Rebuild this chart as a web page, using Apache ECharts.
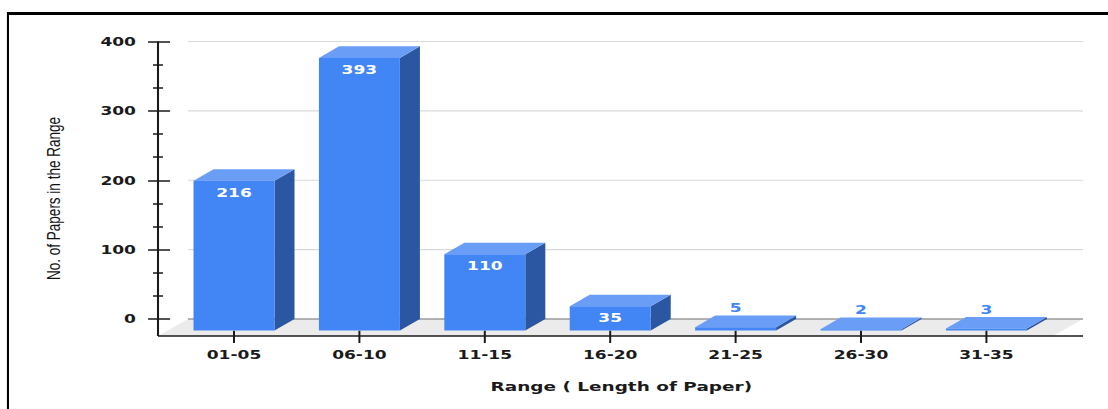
<!DOCTYPE html>
<html>
<head>
<meta charset="utf-8">
<script src="https://cdn.jsdelivr.net/npm/echarts@6/dist/echarts.min.js"></script>
<style>
  html, body { margin: 0; padding: 0; background: #fff; overflow: hidden; }
  /* the chart is laid out narrow and widened horizontally */
  #chart { width: 780px; height: 409px; transform: scaleX(1.42051); transform-origin: 0 0; }
</style>
</head>
<body>
<div id="chart"></div>
<script>
// ---- data ----
const categories = ['01-05', '06-10', '11-15', '16-20', '21-25', '26-30', '31-35'];
const paperCounts = [216, 393, 110, 35, 5, 2, 3];
const yTicks = [0, 100, 200, 300, 400];
const xTitle = 'Range ( Length of Paper)';
const yTitle = 'No. of Papers in the Range';

// ---- look ----
const FRONT = '#4285f4', TOP = '#6a9ef6', SIDE = '#2b56a2';
const INK = '#1a1a1a';
const BOLD = { fontFamily: 'DejaVu Sans', fontWeight: 'bold', fontSize: 12, color: INK };

// 3D geometry (layout px, before horizontal widening)
const BAR_W = 57, DX = 14.1, DY = 11.6;        // bar width and depth offset
const FLOOR_DX = 21.1, FLOOR_DY = 17;          // floor depth
const FLOOR_LEFT = 32.4, FLOOR_RIGHT = 68;     // floor reach beyond first / last category
const TICK_UP = 5.3, TICK_DOWN = 7;            // category tick around the front edge

const yMin = yTicks[0], yMax = yTicks[yTicks.length - 1], yStep = yTicks[1] - yTicks[0];

const chart = echarts.init(document.getElementById('chart'), null, { renderer: 'svg' });

// floor, back gridlines, axis lines and category ticks
function renderScene(params, api) {
  const first = api.coord([0, yMin]);
  const last = api.coord([categories.length - 1, yMin]);
  const topY = api.coord([0, yMax])[1];
  const bl = first[0] - FLOOR_LEFT, br = last[0] + FLOOR_RIGHT;
  const by = first[1], fy = by + FLOOR_DY;
  const children = [{
    type: 'polygon',
    shape: { points: [[bl, by], [br, by], [br - FLOOR_DX, fy], [bl - FLOOR_DX, fy]] },
    style: { fill: '#ebebeb' }
  }];
  yTicks.forEach(function (t) {
    const y = api.coord([0, t])[1];
    children.push({
      type: 'line',
      shape: { x1: bl, y1: y, x2: br, y2: y },
      style: { stroke: t === yMin ? '#9a9a9a' : '#d9d9d9', lineWidth: t === yMin ? 1.6 : 1.2 }
    });
  });
  categories.forEach(function (c, i) {
    const x = api.coord([i, yMin])[0];
    children.push({
      type: 'line',
      shape: { x1: x, y1: fy - TICK_UP, x2: x, y2: fy + TICK_DOWN },
      style: { stroke: INK, lineWidth: 1.4 }
    });
  });
  children.push({
    type: 'line', shape: { x1: bl - FLOOR_DX, y1: fy, x2: br, y2: fy },
    style: { stroke: INK, lineWidth: 1.6 }
  });
  children.push({
    type: 'line', shape: { x1: bl - FLOOR_DX, y1: topY, x2: bl - FLOOR_DX, y2: fy },
    style: { stroke: INK, lineWidth: 1.45 }
  });
  return { type: 'group', children: children };
}

// one 3D bar with its value label
function renderBar(params, api) {
  const i = api.value(0), v = api.value(1);
  const top = api.coord([i, v]), base = api.coord([i, 0]);
  const cx = top[0], l = cx - BAR_W / 2, r = cx + BAR_W / 2;
  const yt = top[1], yb = base[1];
  const fyT = yt + DY, fyB = yb + DY;
  const children = [
    { type: 'polygon', shape: { points: [[r, fyT], [r + DX, yt], [r + DX, yb], [r, fyB]] }, style: { fill: SIDE } },
    { type: 'polygon', shape: { points: [[l, fyT], [l + DX, yt], [r + DX, yt], [r, fyT]] }, style: { fill: TOP } },
    { type: 'rect', shape: { x: l, y: fyT, width: BAR_W, height: Math.max(fyB - fyT, 0.8) }, style: { fill: FRONT } }
  ];
  const inside = (yb - yt) > 16;
  children.push({
    type: 'text',
    x: cx, y: inside ? fyT + 11.5 : yt - 7.7,
    style: {
      text: String(v),
      fill: inside ? '#ffffff' : FRONT,
      fontFamily: 'DejaVu Sans', fontWeight: 'bold', fontSize: 12,
      align: 'center', verticalAlign: 'middle'
    }
  });
  return { type: 'group', children: children };
}

const yAxisBase = {
  type: 'value', min: yMin, max: yMax, interval: yStep,
  position: 'left', offset: 9.36,
  axisLine: { show: false },
  splitLine: { show: false }
};

chart.setOption({
  animation: false,
  backgroundColor: '#ffffff',
  grid: { left: 120.59, width: 617.96, top: 41.5, bottom: 90, outerBoundsMode: 'none' },
  xAxis: {
    type: 'category',
    data: categories,
    offset: 24,
    z: 1,
    axisLine: { show: false },
    axisTick: { show: false },
    axisLabel: Object.assign({ margin: 6 }, BOLD),
    splitLine: { show: false },
    name: xTitle,
    nameLocation: 'middle',
    nameGap: 37.5,
    nameTextStyle: { fontFamily: 'DejaVu Sans', fontWeight: 'bold', fontSize: 13, color: INK, padding: [0, 0, 0, 15.6] }
  },
  yAxis: [
    Object.assign({}, yAxisBase, {
      z: 1,
      axisTick: { show: true, length: 7, lineStyle: { color: INK, width: 1.5 } },
      minorTick: { show: true, splitNumber: 3, length: 3.5, lineStyle: { color: INK, width: 1.5 } },
      axisLabel: Object.assign({ margin: 15.5 }, BOLD)
    }),
    Object.assign({}, yAxisBase, {
      z: 1,
      axisTick: { show: true, inside: true, length: 8.5, lineStyle: { color: INK, width: 1.5 } },
      minorTick: { show: true, splitNumber: 3, length: 3.5, lineStyle: { color: INK, width: 1.5 } },
      axisLabel: { show: false }
    })
  ],
  graphic: [
    { type: 'line', shape: { x1: 5.6, y1: 13.5, x2: 800, y2: 13.5 }, style: { stroke: '#000', lineWidth: 3 } },
    { type: 'line', shape: { x1: 5.6, y1: 12, x2: 5.6, y2: 420 }, style: { stroke: '#000', lineWidth: 1.45 } },
    {
      type: 'text', x: 38, y: 198.5, rotation: Math.PI / 2,
      style: {
        text: yTitle, fill: '#111',
        fontFamily: 'Liberation Sans', fontSize: 13.5,
        align: 'center', verticalAlign: 'middle'
      }
    }
  ],
  series: [
    {
      type: 'custom', name: 'scene', z: 0, silent: true,
      xAxisIndex: 0, yAxisIndex: 0,
      data: [[0, 0]],
      renderItem: renderScene
    },
    {
      type: 'custom', name: 'papers', z: 2,
      xAxisIndex: 0, yAxisIndex: 0,
      encode: { x: 0, y: 1 },
      data: paperCounts.map(function (v, i) { return [i, v]; }),
      renderItem: renderBar
    }
  ]
});
</script>
</body>
</html>
